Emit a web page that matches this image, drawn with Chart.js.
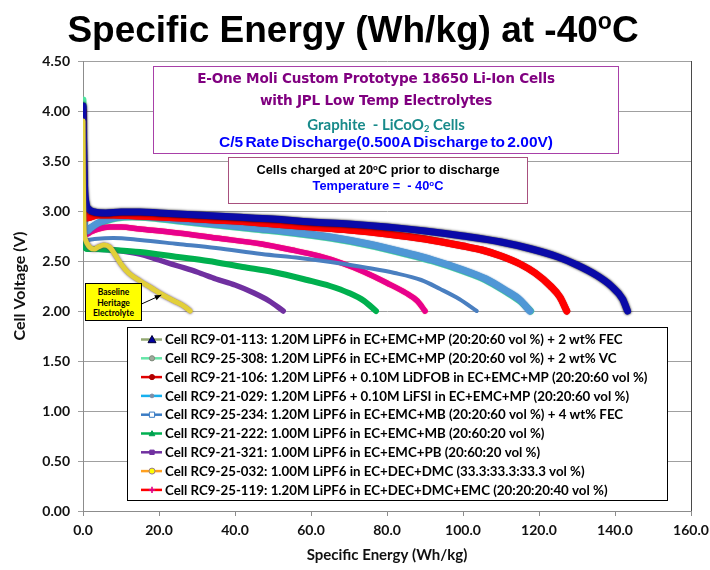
<!DOCTYPE html>
<html>
<head>
<meta charset="utf-8">
<script src="https://cdn.jsdelivr.net/npm/chart.js@4/dist/chart.umd.min.js"></script>
<style>
  html, body { margin: 0; padding: 0; background: #fff; }
  #wrap { position: relative; width: 710px; height: 570px; overflow: hidden; }
  #chart { position: absolute; left: 0; top: 0; }
  #title { position: absolute; left: -2px; top: 11px; width: 710px; text-align: center;
           font: bold 37px "Liberation Sans", Arial, sans-serif; line-height: 37px; color: #000; }
  #title sup { font-size: 23px; vertical-align: 13px; line-height: 0; }
  .note { position: absolute; background: #fff; box-sizing: border-box; }
  .note .ln { position: absolute; left: 0; width: 100%; text-align: center; white-space: nowrap; line-height: 18px; }
  .note sup { font-size: 0.62em; vertical-align: 0.55em; line-height: 0; }
  .note sub { font-size: 0.62em; vertical-align: -0.25em; line-height: 0; }
  #box1 { left: 153px; top: 66px; width: 466px; height: 88px; border: 1.5px solid #a840a8; }
  #box1 .moli { left: -10px; font: bold 13.6px "DejaVu Sans", sans-serif; color: #800080; letter-spacing: -0.2px; }
  #box1 .chem { font: bold 15px Lato, sans-serif; color: #178a8a; }
  #box1 .rate { font: bold 15.5px "Liberation Sans", Arial, sans-serif; color: #0000ff; word-spacing: -2px; }
  #box2 { left: 228px; top: 157px; width: 300px; height: 47px; border: 1.5px solid #a8507e; }
  #box2 .ln { font: bold 12.8px "Liberation Sans", Arial, sans-serif; }
  #baseline { left: 85px; top: 283px; width: 57px; height: 38px; background: #ffff00; border: 1px solid #000; }
  #baseline .ln { font: bold 8.5px Lato, sans-serif; line-height: 10.5px; color: #000; }
</style>
</head>
<body>
<div id="wrap">
  <canvas id="chart" width="710" height="570"></canvas>
  <div id="title">Specific Energy (Wh/kg) at -40<sup>o</sup>C</div>
  <div class="note" id="box1">
    <div class="ln moli" style="top:3px">E-One Moli Custom Prototype 18650 Li-Ion Cells</div>
    <div class="ln moli" style="top:25px">with JPL Low Temp Electrolytes</div>
    <div class="ln chem" style="top:48px">Graphite&nbsp; - LiCoO<sub>2</sub> Cells</div>
    <div class="ln rate" style="top:66px">C/5 Rate Discharge(0.500A Discharge to 2.00V)</div>
  </div>
  <div class="note" id="box2">
    <div class="ln" style="top:4px;color:#000">Cells charged at 20<sup>o</sup>C prior to discharge</div>
    <div class="ln" style="top:20px;color:#0000ff">Temperature =&nbsp; - 40<sup>o</sup>C</div>
  </div>
  <div class="note" id="baseline">
    <div class="ln" style="top:3px">Baseline</div>
    <div class="ln" style="top:13.5px">Heritage</div>
    <div class="ln" style="top:24px">Electrolyte</div>
  </div>
</div>
<script>
// Discharge curves at -40 C: specific energy (Wh/kg) vs cell voltage (V)
const seriesLabels = [
  'Cell RC9-01-113: 1.20M LiPF6 in EC+EMC+MP (20:20:60 vol %) + 2 wt% FEC',
  'Cell RC9-25-308: 1.20M LiPF6 in EC+EMC+MP (20:20:60 vol %) + 2 wt% VC',
  'Cell RC9-21-106: 1.20M LiPF6 + 0.10M LiDFOB in EC+EMC+MP (20:20:60 vol %)',
  'Cell RC9-21-029: 1.20M LiPF6 + 0.10M LiFSI in EC+EMC+MP (20:20:60 vol %)',
  'Cell RC9-25-234: 1.20M LiPF6 in EC+EMC+MB (20:20:60 vol %) + 4 wt% FEC',
  'Cell RC9-21-222: 1.00M LiPF6 in EC+EMC+MB (20:60:20 vol %)',
  'Cell RC9-21-321: 1.00M LiPF6 in EC+EMC+PB (20:60:20 vol %)',
  'Cell RC9-25-032: 1.00M LiPF6 in EC+DEC+DMC (33.3:33.3:33.3 vol %)',
  'Cell RC9-25-119: 1.20M LiPF6 in EC+DEC+DMC+EMC (20:20:20:40 vol %)'
];

const energy113 = [0, 0.15, 0.4, 0.8, 1.5, 3, 6, 10, 15, 20, 30, 40, 50, 60, 70, 80, 90, 100, 110, 118, 125, 130, 135, 139, 142, 143.3];
const volts113  = [4.05, 3.70, 3.25, 3.08, 3.02, 2.99, 2.98, 2.99, 2.99, 2.98, 2.96, 2.94, 2.92, 2.89, 2.87, 2.84, 2.80, 2.75, 2.69, 2.62, 2.54, 2.46, 2.36, 2.25, 2.12, 2.00];

const energy308 = [0, 0.1, 0.3, 0.6, 1, 2, 4, 6, 9, 13, 18, 25, 35, 45, 55, 65, 75, 85, 92, 100, 106, 111, 115, 117.8];
const volts308  = [4.11, 3.55, 2.96, 2.82, 2.81, 2.83, 2.87, 2.90, 2.93, 2.94, 2.93, 2.90, 2.86, 2.82, 2.78, 2.73, 2.66, 2.57, 2.50, 2.40, 2.31, 2.20, 2.10, 2.00];

const energy106 = [0, 0.1, 0.3, 0.6, 1, 2, 4, 8, 14, 20, 30, 40, 50, 60, 70, 80, 90, 100, 105, 110, 115, 119, 123, 125.5, 127.3];
const volts106  = [4.00, 3.60, 3.10, 2.95, 2.93, 2.94, 2.96, 2.96, 2.95, 2.94, 2.92, 2.90, 2.87, 2.84, 2.81, 2.77, 2.72, 2.65, 2.61, 2.55, 2.47, 2.38, 2.25, 2.14, 2.00];

const energy029 = [0, 0.1, 0.3, 0.6, 1, 3, 8, 15, 25, 35, 47, 57, 67, 75, 82, 89, 94, 99, 103.6];
const volts029  = [3.90, 3.20, 2.75, 2.71, 2.71, 2.72, 2.73, 2.71, 2.67, 2.63, 2.57, 2.53, 2.48, 2.43, 2.38, 2.31, 2.22, 2.12, 2.00];

const energy234 = [0, 0.1, 0.3, 0.6, 1, 2, 4, 6, 9, 13, 18, 25, 35, 45, 55, 65, 75, 85, 92, 100, 106, 111, 115, 117.6];
const volts234  = [4.03, 3.50, 2.95, 2.80, 2.80, 2.83, 2.88, 2.91, 2.94, 2.95, 2.94, 2.91, 2.87, 2.83, 2.79, 2.74, 2.67, 2.58, 2.51, 2.41, 2.32, 2.21, 2.11, 2.00];

const energy222 = [0, 0.1, 0.3, 0.6, 1, 3, 8, 15, 25, 33, 42, 50, 59, 65, 70, 74, 77.1];
const volts222  = [3.85, 3.10, 2.66, 2.63, 2.62, 2.62, 2.61, 2.59, 2.54, 2.50, 2.44, 2.39, 2.31, 2.25, 2.18, 2.10, 2.00];

const energy321 = [0, 0.1, 0.3, 0.6, 1, 3, 8, 12, 16, 20, 25, 30, 35, 40, 45, 49, 52.7];
const volts321  = [3.80, 3.10, 2.68, 2.64, 2.63, 2.62, 2.61, 2.59, 2.56, 2.51, 2.45, 2.39, 2.32, 2.26, 2.18, 2.10, 2.00];

const energy032 = [0, 0.1, 0.3, 0.6, 1, 2, 3, 4, 5.5, 7, 8.5, 10, 12, 15, 18, 21, 24, 26.5, 28.2];
const volts032  = [3.90, 3.30, 2.80, 2.72, 2.68, 2.63, 2.62, 2.64, 2.66, 2.64, 2.56, 2.47, 2.38, 2.30, 2.23, 2.16, 2.10, 2.05, 2.00];

const energy119 = [0, 0.1, 0.25, 0.5, 1, 2, 4, 7, 10, 15, 25, 35, 47, 55, 62, 68, 74, 80, 85, 88, 90];
const volts119  = [3.95, 3.40, 2.85, 2.77, 2.77, 2.79, 2.82, 2.84, 2.84, 2.82, 2.78, 2.73, 2.67, 2.61, 2.55, 2.48, 2.39, 2.28, 2.18, 2.10, 2.00];

const xTickStep = 20;
const yTickStep = 0.5;

const pairs = (xs, ys) => xs.map((x, i) => ({ x, y: ys[i] }));

function series(idx, xs, ys, style) {
  return Object.assign({
    label: seriesLabels[idx],
    data: pairs(xs, ys),
    showLine: true,
    pointRadius: 0,
    pointHoverRadius: 0,
    fill: false,
    cubicInterpolationMode: 'monotone',
    borderCapStyle: 'round',
    borderJoinStyle: 'round'
  }, style);
}

const datasets = [
  series(0, energy113, volts113, { borderColor: '#0a0aa8', borderWidth: 7, edgeColor: '#000', edgeBlur: 2.5, order: 1,
    legend: { line: '#93a872', marker: 'triangle', fill: '#0000a0', stroke: '#000030', size: 4 } }),
  series(1, energy308, volts308, { borderColor: '#4fe3a0', borderWidth: 7, order: 6,
    legend: { line: '#66e6a8', marker: 'circle', fill: '#a0aa9c', stroke: '#7c8a7a', size: 2.6 } }),
  series(2, energy106, volts106, { borderColor: '#ff0000', borderWidth: 7, edgeColor: '#b00000', edgeBlur: 1, order: 2,
    legend: { line: '#e00000', marker: 'circle', fill: '#b00000', stroke: '#b00000', size: 2.6 } }),
  series(3, energy029, volts029, { borderColor: '#4a7fc0', borderWidth: 4, order: 4,
    legend: { line: '#16b0ee', marker: 'circle', fill: '#7f8ea6', stroke: '#7f8ea6', size: 1.9 } }),
  series(4, energy234, volts234, { borderColor: '#4f97d6', borderWidth: 7, edgeColor: '#2f70b0', edgeBlur: 1.5, order: 3,
    legend: { line: '#3a7cc4', marker: 'square', fill: '#ffffff', stroke: '#3a7cc4', size: 2.6 } }),
  series(5, energy222, volts222, { borderColor: '#00b04e', borderWidth: 6, order: 4,
    legend: { line: '#00b050', marker: 'triangle', fill: '#00a050', stroke: '#00a050', size: 2.8 } }),
  series(6, energy321, volts321, { borderColor: '#7030a0', borderWidth: 5.5, order: 4,
    legend: { line: '#7030a0', marker: 'square', fill: '#7030a0', stroke: '#7030a0', size: 2.2 } }),
  series(7, energy032, volts032, { borderColor: '#e2cf3a', borderWidth: 5, edgeColor: '#5a4060', edgeBlur: 2.5, order: 0,
    legend: { line: '#ffa020', marker: 'circle', fill: '#ffff00', stroke: '#9a7a8a', size: 3 } }),
  series(8, energy119, volts119, { borderColor: '#e8008c', borderWidth: 5.5, edgeColor: '#ff2040', edgeBlur: 1, order: 4,
    legend: { line: '#ff0000', marker: 'plus', fill: '#e0008a', stroke: '#e0008a', size: 3.2 } })
];

// Dark rim round the thick curves
const edgePlugin = {
  id: 'curveEdge',
  beforeDatasetDraw(chart, args) {
    const ds = chart.data.datasets[args.index];
    const ctx = chart.ctx;
    ctx.save();
    if (ds.edgeColor) {
      ctx.shadowColor = ds.edgeColor;
      ctx.shadowBlur = ds.edgeBlur;
    }
  },
  afterDatasetDraw(chart) { chart.ctx.restore(); }
};

function drawMarker(ctx, kind, x, y, s, fill, stroke) {
  ctx.save();
  ctx.fillStyle = fill;
  ctx.strokeStyle = stroke;
  ctx.lineWidth = 1;
  ctx.beginPath();
  if (kind === 'triangle') {
    ctx.moveTo(x, y - s); ctx.lineTo(x + s, y + s * 0.8); ctx.lineTo(x - s, y + s * 0.8); ctx.closePath();
    ctx.fill(); ctx.stroke();
  } else if (kind === 'circle') {
    ctx.arc(x, y, s, 0, Math.PI * 2); ctx.fill(); ctx.stroke();
  } else if (kind === 'square') {
    ctx.rect(x - s, y - s, 2 * s, 2 * s); ctx.fill(); ctx.stroke();
  } else if (kind === 'plus') {
    ctx.lineWidth = 1.6;
    ctx.moveTo(x - s, y); ctx.lineTo(x + s, y); ctx.moveTo(x, y - s); ctx.lineTo(x, y + s); ctx.stroke();
  }
  ctx.restore();
}

// Plot frame, arrow to the baseline curve, and the boxed legend
const framePlugin = {
  id: 'frameAndLegend',
  afterDatasetsDraw(chart) {
    const { ctx, scales: { x, y } } = chart;
    // arrow from the "Baseline Heritage Electrolyte" note to its curve
    const x0 = x.getPixelForValue(15.4), y0 = y.getPixelForValue(2.07);
    const x1 = x.getPixelForValue(20.6), y1 = y.getPixelForValue(2.16);
    ctx.save();
    ctx.strokeStyle = '#000'; ctx.fillStyle = '#000'; ctx.lineWidth = 1;
    ctx.beginPath(); ctx.moveTo(x0, y0); ctx.lineTo(x1, y1); ctx.stroke();
    const a = Math.atan2(y1 - y0, x1 - x0), h = 7;
    ctx.beginPath();
    ctx.moveTo(x1, y1);
    ctx.lineTo(x1 - h * Math.cos(a - 0.4), y1 - h * Math.sin(a - 0.4));
    ctx.lineTo(x1 - h * Math.cos(a + 0.4), y1 - h * Math.sin(a + 0.4));
    ctx.closePath(); ctx.fill();
    ctx.restore();
  },
  afterDraw(chart) {
    const { ctx, chartArea: ca } = chart;
    ctx.save();
    ctx.strokeStyle = '#4a4a4a'; ctx.lineWidth = 1;
    ctx.beginPath(); ctx.moveTo(ca.right + 0.5, ca.top); ctx.lineTo(ca.right + 0.5, ca.bottom); ctx.stroke();

    const box = { left: 127, top: 327, right: 667, bottom: 500 };
    ctx.fillStyle = '#fff';
    ctx.fillRect(box.left, box.top, box.right - box.left, box.bottom - box.top);
    ctx.strokeStyle = '#000'; ctx.lineWidth = 1;
    ctx.strokeRect(box.left + 0.5, box.top + 0.5, box.right - box.left, box.bottom - box.top);

    ctx.font = 'bold 13.3px Lato, sans-serif';
    ctx.textBaseline = 'middle';
    ctx.textAlign = 'left';
    chart.data.datasets.forEach((ds, i) => {
      const rowY = box.top + 12.5 + i * 18.8;
      const lg = ds.legend;
      ctx.strokeStyle = lg.line; ctx.lineWidth = 2.5;
      ctx.beginPath(); ctx.moveTo(box.left + 14, rowY); ctx.lineTo(box.left + 35, rowY); ctx.stroke();
      drawMarker(ctx, lg.marker, box.left + 25, rowY, lg.size, lg.fill, lg.stroke);
      ctx.fillStyle = '#000';
      ctx.fillText(ds.label, box.left + 38, rowY + 0.5);
    });
    ctx.restore();
  }
};

new Chart(document.getElementById('chart'), {
  type: 'scatter',
  data: { datasets },
  plugins: [edgePlugin, framePlugin],
  options: {
    responsive: false,
    animation: false,
    events: [],
    layout: { padding: { top: 61, right: 19, left: 0, bottom: 0 } },
    plugins: { legend: { display: false }, tooltip: { enabled: false }, title: { display: false } },
    scales: {
      x: {
        type: 'linear', min: 0, max: 160,
        afterFit(scale) { scale.height = 59; scale.paddingLeft = 0; scale.paddingRight = 0; },
        ticks: { stepSize: xTickStep, padding: 6, color: '#111', maxRotation: 0,
                 font: { family: 'Lato', weight: 'bold', size: 14 },
                 callback: v => Number(v).toFixed(1) },
        grid: { drawOnChartArea: false, drawTicks: true, tickLength: 5, color: '#8c8c8c' },
        border: { color: '#8c8c8c' },
        title: { display: true, text: 'Specific Energy (Wh/kg)', color: '#111',
                 font: { family: 'Lato', weight: 'bold', size: 15 }, padding: { top: 0, bottom: 6 } }
      },
      y: {
        type: 'linear', min: 0, max: 4.5,
        afterFit(scale) { scale.width = 83; },
        ticks: { stepSize: yTickStep, padding: 8, color: '#111',
                 font: { family: 'Lato', weight: 'bold', size: 14 },
                 callback: v => Number(v).toFixed(2) },
        grid: { color: '#a0a0a0', tickLength: 5, drawTicks: true },
        border: { color: '#8c8c8c' },
        title: { display: true, text: 'Cell Voltage (V)', color: '#111',
                 font: { family: 'Lato', weight: 'bold', size: 16 }, padding: { top: 10, bottom: 0 } }
      }
    }
  }
});
</script>
</body>
</html>
